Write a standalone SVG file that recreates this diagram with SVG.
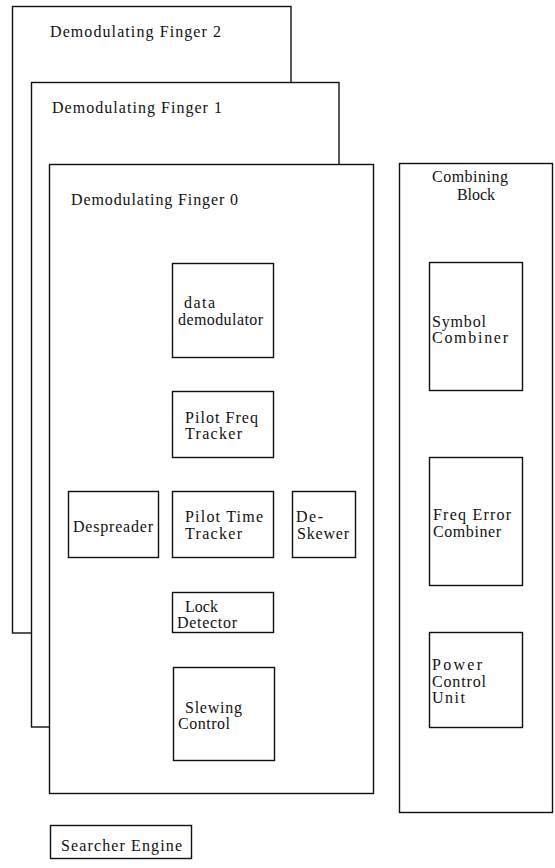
<svg xmlns="http://www.w3.org/2000/svg" width="555" height="868" viewBox="0 0 555 868">
<style>
.b{fill:#fff;stroke:#111;stroke-width:1.4}
.t{font-family:"Liberation Serif","Times New Roman",serif;font-size:16px;fill:#111}
</style>
<rect width="555" height="868" fill="#fff"/>
<g id="finger2">
<rect class="b" x="12.5" y="6.5" width="278.5" height="626.5"/>
<text class="t" x="50" y="37" textLength="171" lengthAdjust="spacing">Demodulating Finger 2</text>
</g>
<g id="finger1">
<rect class="b" x="31.5" y="82.5" width="307.5" height="644.5"/>
<text class="t" x="52" y="113" textLength="170" lengthAdjust="spacing">Demodulating Finger 1</text>
</g>
<g id="finger0">
<rect class="b" x="49.5" y="164.5" width="324" height="629"/>
<text class="t" x="71" y="205" textLength="167" lengthAdjust="spacing">Demodulating Finger 0</text>
</g>
<g id="data-demodulator">
<rect class="b" x="172.5" y="263.5" width="101" height="94"/>
<text class="t" x="184" y="308" textLength="31" lengthAdjust="spacing">data</text>
<text class="t" x="178" y="325" textLength="85" lengthAdjust="spacing">demodulator</text>
</g>
<g id="pilot-freq-tracker">
<rect class="b" x="172.5" y="391.5" width="101" height="66"/>
<text class="t" x="185" y="423" textLength="73" lengthAdjust="spacing">Pilot Freq</text>
<text class="t" x="185" y="439" textLength="57" lengthAdjust="spacing">Tracker</text>
</g>
<g id="despreader">
<rect class="b" x="68.5" y="491.5" width="90" height="66"/>
<text class="t" x="73" y="532" textLength="80" lengthAdjust="spacing">Despreader</text>
</g>
<g id="pilot-time-tracker">
<rect class="b" x="172.5" y="491.5" width="101" height="66"/>
<text class="t" x="185" y="522" textLength="78" lengthAdjust="spacing">Pilot Time</text>
<text class="t" x="185" y="539" textLength="57" lengthAdjust="spacing">Tracker</text>
</g>
<g id="de-skewer">
<rect class="b" x="292.5" y="491.5" width="63" height="66"/>
<text class="t" x="296" y="522" textLength="27" lengthAdjust="spacing">De-</text>
<text class="t" x="297" y="539" textLength="52" lengthAdjust="spacing">Skewer</text>
</g>
<g id="lock-detector">
<rect class="b" x="172.5" y="592.5" width="101" height="40"/>
<text class="t" x="185" y="612" textLength="33" lengthAdjust="spacing">Lock</text>
<text class="t" x="177" y="628" textLength="60" lengthAdjust="spacing">Detector</text>
</g>
<g id="slewing-control">
<rect class="b" x="173.5" y="667.5" width="101" height="93"/>
<text class="t" x="185" y="713" textLength="57" lengthAdjust="spacing">Slewing</text>
<text class="t" x="178" y="729" textLength="52" lengthAdjust="spacing">Control</text>
</g>
<g id="searcher-engine">
<rect class="b" x="50.5" y="825.5" width="141" height="33"/>
<text class="t" x="61" y="851" textLength="121" lengthAdjust="spacing">Searcher Engine</text>
</g>
<g id="combining-block">
<rect class="b" x="399.5" y="163.5" width="153" height="649"/>
<text class="t" x="432" y="182" textLength="76" lengthAdjust="spacing">Combining</text>
<text class="t" x="457" y="200" textLength="38" lengthAdjust="spacing">Block</text>
</g>
<g id="symbol-combiner">
<rect class="b" x="429.5" y="262.5" width="93" height="128"/>
<text class="t" x="432" y="327" textLength="54" lengthAdjust="spacing">Symbol</text>
<text class="t" x="432" y="343" textLength="76" lengthAdjust="spacing">Combiner</text>
</g>
<g id="freq-error-combiner">
<rect class="b" x="429.5" y="457.5" width="93" height="128"/>
<text class="t" x="433" y="520" textLength="78" lengthAdjust="spacing">Freq Error</text>
<text class="t" x="433" y="537" textLength="68" lengthAdjust="spacing">Combiner</text>
</g>
<g id="power-control-unit">
<rect class="b" x="429.5" y="632.5" width="93" height="95"/>
<text class="t" x="432" y="670" textLength="50" lengthAdjust="spacing">Power</text>
<text class="t" x="432" y="687" textLength="54" lengthAdjust="spacing">Control</text>
<text class="t" x="432" y="703" textLength="33" lengthAdjust="spacing">Unit</text>
</g>
<g id="connectors"></g>
</svg>
